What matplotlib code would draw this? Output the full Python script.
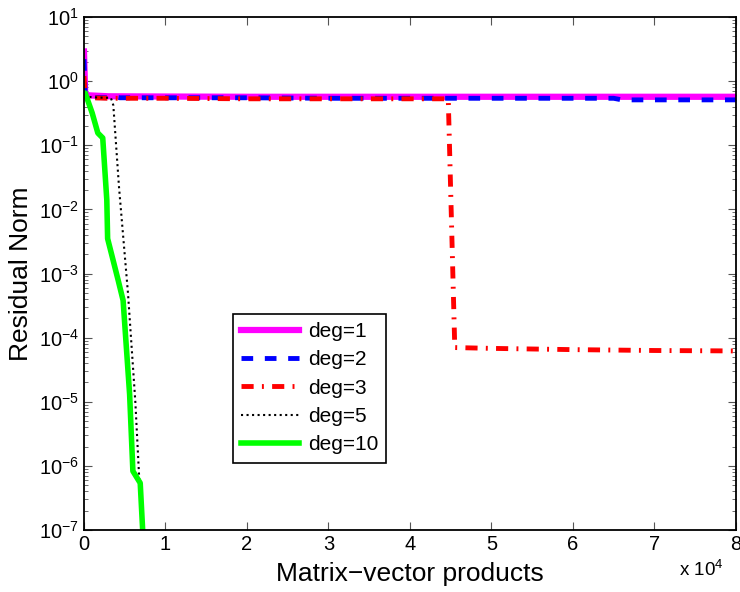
import numpy as np
import matplotlib.pyplot as plt
from matplotlib.ticker import LogLocator, FixedLocator, FuncFormatter, NullFormatter

plt.rcParams['font.family'] = ['Liberation Sans', 'DejaVu Sans']
plt.rcParams['mathtext.fontset'] = 'custom'
plt.rcParams['mathtext.rm'] = 'Liberation Sans'

# data (x = matrix-vector products)
deg1_x = [0, 150, 600, 3000, 10000, 20000, 30000, 40000, 50000, 60000, 70000, 80000]
deg1_y = [2.9, 0.62, 0.6, 0.58, 0.575, 0.57, 0.57, 0.57, 0.57, 0.57, 0.57, 0.57]

deg2_x = [0, 150, 600, 3000, 4000, 4400, 10000, 20000, 30000, 40000, 50000, 60000, 65000, 66000, 80000]
deg2_y = [2.2, 0.6, 0.56, 0.55, 0.56, 0.55, 0.55, 0.55, 0.54, 0.54, 0.54, 0.54, 0.54, 0.51, 0.51]

deg3_x = [0, 150, 600, 3000, 10000, 20000, 30000, 40000, 44700, 45500, 50000, 60000, 70000, 80000]
deg3_y = [1.2, 0.58, 0.55, 0.54, 0.54, 0.53, 0.53, 0.53, 0.53, 7.0e-5, 6.8e-5, 6.5e-5, 6.3e-5, 6.2e-5]

deg5_x = [0, 1000, 2500, 3300, 3600, 4300, 5400, 6300, 7100]
deg5_y = [0.58, 0.56, 0.55, 0.55, 0.42, 0.022, 4.9e-4, 1.0e-5, 1.0e-7]

deg10_x = [0, 150, 1000, 1700, 2300, 2800, 2900, 4200, 4800, 5600, 6000, 6900, 7200]
deg10_y = [0.65, 0.65, 0.32, 0.155, 0.13, 0.014, 3.5e-3, 7.8e-4, 3.8e-4, 1.3e-5, 8.3e-7, 5.4e-7, 1.0e-7]

fig = plt.figure(figsize=(7.4, 5.92), dpi=100)
ax = fig.add_axes([0.1135, 0.1047, 0.881, 0.8666])

ax.plot(deg1_x, deg1_y, color='#ff00ff', lw=4.5, label='deg=1')
ax.plot(deg2_x, deg2_y, color='#0000ff', lw=3.5, dashes=(2.4, 2.4), label='deg=2')
ax.plot(deg3_x, deg3_y, color='#ff0000', lw=3.5, dashes=(2.5, 1.7, 0.4, 1.7), label='deg=3')
ax.plot(deg5_x, deg5_y, color='black', lw=1.5, ls=':', label='deg=5')
ax.plot(deg10_x, deg10_y, color='#00ff00', lw=4, label='deg=10')

ax.set_yscale('log')
ax.set_ylim(1e-7, 1e1)
ax.set_xlim(0, 80000)

ax.xaxis.set_major_locator(FixedLocator(np.arange(0, 80001, 10000)))
ax.xaxis.set_major_formatter(FuncFormatter(lambda v, p: '%d' % round(v / 1e4)))
ax.yaxis.set_major_locator(LogLocator(base=10, numticks=20))
ax.yaxis.set_minor_locator(LogLocator(base=10, subs=np.arange(2, 10), numticks=20))
ax.yaxis.set_minor_formatter(NullFormatter())

ax.tick_params(which='both', direction='in', top=True, right=True, labelsize=14.5, color='#555555')
ax.tick_params(which='major', length=6)
ax.tick_params(which='minor', length=3)
for sp in ax.spines.values():
    sp.set_linewidth(1.3)

ax.set_xlabel('Matrix\u2212vector products', fontsize=19, labelpad=6)
ax.set_ylabel('Residual Norm', fontsize=19, labelpad=4)
fig.text(0.978, 0.02, r'x 10$^{4}$', fontsize=13.5, ha='right', va='bottom')

leg = ax.legend(loc='lower left', bbox_to_anchor=(0.228, 0.131), borderaxespad=0, fontsize=15,
                frameon=True, fancybox=False, edgecolor='black', framealpha=1,
                handlelength=2.8, handletextpad=0.4, borderpad=0.4, labelspacing=0.45)
leg.get_frame().set_linewidth(1.2)

fig.savefig('out.png', dpi=100)
